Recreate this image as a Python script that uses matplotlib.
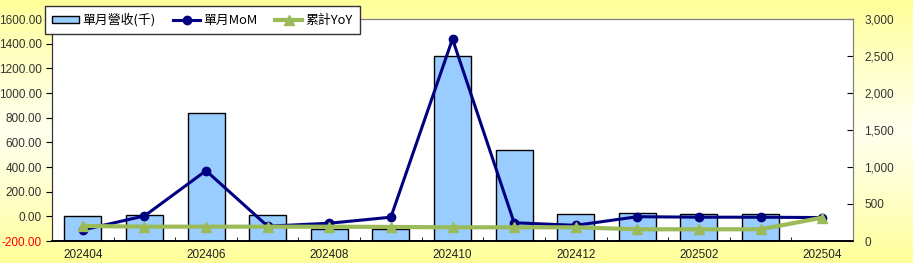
import numpy as np
import matplotlib
matplotlib.use('Agg')
import matplotlib.pyplot as plt
from matplotlib.patches import Patch
from matplotlib.lines import Line2D
from matplotlib.ticker import FuncFormatter, FixedLocator

plt.rcParams['font.family'] = ['Liberation Sans', 'Noto Sans CJK TC', 'DejaVu Sans']

# datos
months = ['202404', '202405', '202406', '202407', '202408', '202409', '202410',
          '202411', '202412', '202501', '202502', '202503', '202504']
revenue = [342, 351, 1726, 351, 158, 158, 2500, 1230, 365, 374, 365, 365, 0]
mom = [-110, 3, 370, -80, -56, -7, 1438, -52, -73, -3, -7, -7, -10]
yoy = [-78, -84, -84, -84, -84, -86, -89, -89, -89, -105, -105, -105, -11]

fig = plt.figure(figsize=(9.13, 2.63), dpi=100)

# fondo degradado amarillo
bg = fig.add_axes([0, 0, 1, 1], zorder=-10)
yy, xx = np.mgrid[0:1:200j, 0:1:400j]
t = np.clip(np.abs(yy - 0.5) * 2.0, 0, 1) ** 1.2
yellow = np.array([1.0, 1.0, 0.6])
white = np.array([1.0, 1.0, 0.93])
img = white[None, None, :] * (1 - t[..., None]) + yellow[None, None, :] * t[..., None]
bg.imshow(img, aspect='auto', extent=[0, 1, 0, 1])
bg.axis('off')

x = np.arange(len(months))
ax2 = fig.add_axes([52 / 913, 22 / 263, 801 / 913, 222 / 263])
ax2.set_facecolor('white')
ax2.bar(x, revenue, width=0.6, color='#99CCFF', edgecolor='black', linewidth=1)
ax2.set_ylim(0, 3000)
ax2.set_xlim(-0.5, len(months) - 0.5)

ax = ax2.twinx()
ax.set_zorder(ax2.get_zorder() + 1)
ax.patch.set_visible(False)
ax.plot(x, mom, color='#000080', linewidth=2.2, marker='o', markersize=6, label='單月MoM')
ax.plot(x, yoy, color='#9BBB59', linewidth=3, marker='^', markersize=7, label='累計YoY')
ax.set_ylim(-200, 1600)
ax.set_yticks(np.arange(-200, 1601, 200))
ax.yaxis.set_major_formatter(FuncFormatter(lambda v, p: f'{v:.2f}'))
ax.yaxis.tick_left()
ax.tick_params(axis='y', direction='out', length=4, labelsize=8.5, labelcolor='#333333')
ax.get_yticklabels()[0].set_color('red')

ax2.yaxis.tick_right()
ax2.set_yticks(np.arange(0, 3001, 500))
ax2.yaxis.set_major_formatter(FuncFormatter(lambda v, p: f'{int(v):,}'))
ax2.tick_params(axis='y', direction='in', length=4, labelsize=8.5, labelcolor='#333333', pad=8)

ax2.set_xticks(x[::2])
ax2.set_xticklabels(months[::2])
ax2.xaxis.set_minor_locator(FixedLocator(np.arange(0.5, len(months) - 1, 1)))
ax2.tick_params(axis='x', which='major', length=0, labelsize=8.5, labelcolor='#222222', pad=6)
ax2.tick_params(axis='x', which='minor', direction='in', length=3)

for a in (ax, ax2):
    for s in a.spines.values():
        s.set_color('#808080')
    a.spines['left'].set_color('#333333')
    a.spines['bottom'].set_color('#000000')
    a.spines['bottom'].set_linewidth(1.2)

handles = [Patch(facecolor='#99CCFF', edgecolor='black', label='單月營收(千)'),
           Line2D([], [], color='#000080', linewidth=2.2, marker='o', markersize=6, label='單月MoM'),
           Line2D([], [], color='#9BBB59', linewidth=3, marker='^', markersize=7, label='累計YoY')]
leg = fig.legend(handles=handles, loc='upper left', bbox_to_anchor=(45 / 913, 1 - 6 / 263), ncol=3,
                 fancybox=False, framealpha=1, edgecolor='#333333',
                 prop={'family': ['Noto Sans CJK TC'], 'size': 9.3},
                 handlelength=2.1, handleheight=0.5, columnspacing=1.35, borderpad=0.55,
                 handletextpad=0.25, borderaxespad=0)
leg.get_frame().set_linewidth(1)

fig.savefig('out.png', dpi=100)
